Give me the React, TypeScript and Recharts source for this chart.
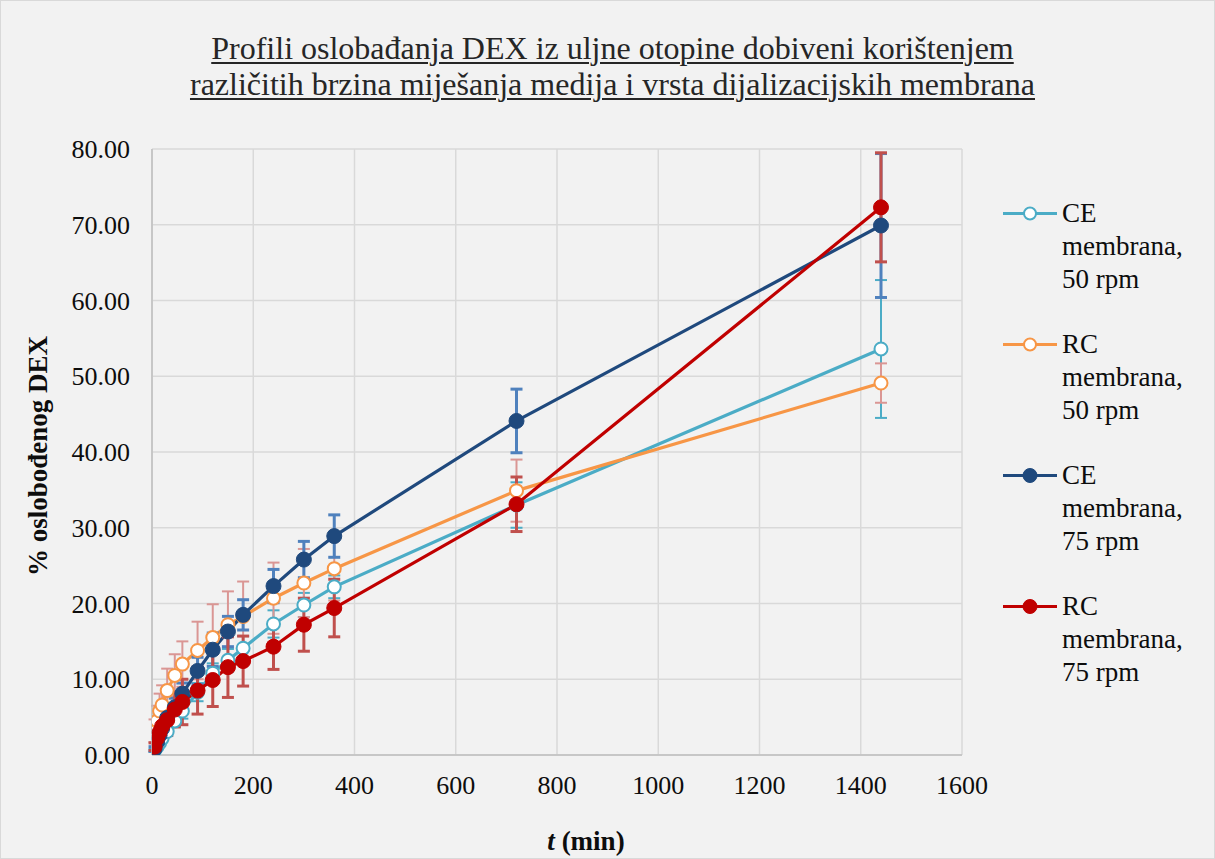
import React from 'react';
import { LineChart, Line, XAxis, YAxis, CartesianGrid, ErrorBar, Legend } from 'recharts';

// ---- data ----
const times = [5, 10, 15, 20, 30, 45, 60, 90, 120, 150, 180, 240, 300, 360, 720, 1440];

const ce50 = [0.6, 1.1, 1.6, 2.2, 3.1, 4.5, 5.8, 8.3, 10.8, 12.5, 14.1, 17.3, 19.8, 22.2, 33.0, 53.6];
const ce50Err = [0.2, 0.3, 0.4, 0.5, 0.6, 0.8, 1.0, 1.2, 1.3, 1.5, 1.6, 1.8, 1.6, 1.5, 3.0, 9.1];

const rc50 = [3.2, 4.5, 5.8, 6.6, 8.5, 10.5, 12.0, 13.8, 15.5, 17.2, 18.3, 20.7, 22.7, 24.6, 34.9, 49.1];
const rc50Err = [1.5, 2.0, 2.3, 2.6, 2.9, 2.8, 3.0, 3.8, 4.4, 4.4, 4.6, 4.7, 4.5, 4.2, 4.1, 2.6];

const ce75 = [0.8, 1.7, 2.6, 3.5, 4.9, 6.3, 8.1, 11.1, 13.9, 16.3, 18.5, 22.3, 25.8, 28.9, 44.1, 69.9];
const ce75Err = [0.3, 0.5, 0.6, 0.8, 1.0, 1.2, 1.4, 1.8, 2.2, 2.0, 2.0, 2.2, 2.4, 2.8, 4.2, 9.5];

const rc75 = [1.1, 2.2, 3.0, 3.8, 4.6, 6.0, 7.0, 8.5, 9.9, 11.6, 12.4, 14.3, 17.2, 19.4, 33.1, 72.3];
const rc75Err = [0.5, 0.8, 1.2, 1.5, 2.0, 2.3, 3.0, 3.1, 3.5, 4.0, 3.3, 3.0, 3.5, 3.8, 3.6, 7.2];

const xTicks = [0, 200, 400, 600, 800, 1000, 1200, 1400, 1600];
const yTicks = [0, 10, 20, 30, 40, 50, 60, 70, 80];

const titleLines = [
  'Profili oslobađanja DEX iz uljne otopine dobiveni korištenjem',
  'različitih brzina miješanja medija i vrsta dijalizacijskih membrana',
];
const xLabel = ['t', ' (min)'];
const yLabel = '% oslobođenog DEX';

const series = [
  { key: 'ce50', name: 'CE membrana, 50 rpm', color: '#4BACC6', errColor: '#4BACC6', errWidth: 2, hollow: true },
  { key: 'rc50', name: 'RC membrana, 50 rpm', color: '#F79646', errColor: '#DA9694', errWidth: 2, hollow: true },
  { key: 'ce75', name: 'CE membrana, 75 rpm', color: '#1F497D', errColor: '#4F81BD', errWidth: 3, hollow: false },
  { key: 'rc75', name: 'RC membrana, 75 rpm', color: '#C00000', errColor: '#C0504D', errWidth: 3, hollow: false },
];

const data = times.map((t, i) => ({
  t,
  ce50: ce50[i],
  ce50Err: ce50Err[i],
  rc50: rc50[i],
  rc50Err: rc50Err[i],
  ce75: ce75[i],
  ce75Err: ce75Err[i],
  rc75: rc75[i],
  rc75Err: rc75Err[i],
}));

const FONT = '"Liberation Serif", "Times New Roman", serif';
const TEXT = '#0d0d0d';

const W = 1215;
const H = 859;

const XTick = (props: any) => {
  const { x, y, payload } = props;
  return (
    <text x={x} y={y} textAnchor="middle" fontFamily={FONT} fontSize={26} fill={TEXT}>
      {payload.value}
    </text>
  );
};

const YTick = (props: any) => {
  const { x, y, payload } = props;
  return (
    <text x={x} y={y + 9} textAnchor="end" fontFamily={FONT} fontSize={26} fill={TEXT}>
      {Number(payload.value).toFixed(2)}
    </text>
  );
};

const XTitle = (props: any) => {
  const vb = props.viewBox || { x: 152, y: 755, width: 810, height: 104 };
  const cx = vb.x + vb.width / 2 + 29;
  return (
    <text x={cx} y={vb.y + 95} textAnchor="middle" fontFamily={FONT} fontSize={27} fontWeight="bold" fill={TEXT}>
      <tspan fontStyle="italic">{xLabel[0]}</tspan>
      <tspan>{xLabel[1]}</tspan>
    </text>
  );
};

const YTitle = (props: any) => {
  const vb = props.viewBox || { x: 0, y: 149, width: 152, height: 606 };
  const x = vb.x + 47;
  const y = vb.y + vb.height / 2 + 4;
  return (
    <text
      x={x}
      y={y}
      transform={`rotate(-90, ${x}, ${y})`}
      textAnchor="middle"
      fontFamily={FONT}
      fontSize={27}
      fontWeight="bold"
      fill={TEXT}
    >
      {yLabel}
    </text>
  );
};

const LegendContent = (props: any) => {
  const payload: any[] = props.payload || [];
  const entries = series.filter(
    (s) => payload.length === 0 || payload.some((p: any) => p.dataKey === s.key || p.value === s.name)
  );
  return (
    <div style={{ fontFamily: FONT, color: TEXT }}>
      {entries.map((s) => (
        <div key={s.key} style={{ display: 'flex', alignItems: 'flex-start', marginBottom: 32 }}>
          <svg width={60} height={33} style={{ flex: '0 0 auto' }}>
            <line x1={3} y1={16.5} x2={57} y2={16.5} stroke={s.color} strokeWidth={3} />
            {s.hollow ? (
              <circle cx={30} cy={16.5} r={6} fill="#fff" stroke={s.color} strokeWidth={2} />
            ) : (
              <circle cx={30} cy={16.5} r={7} fill={s.color} stroke={s.color} strokeWidth={1} />
            )}
          </svg>
          <div style={{ marginLeft: 2, width: 140, fontSize: 27, lineHeight: '33px' }}>{s.name}</div>
        </div>
      ))}
    </div>
  );
};

export default function App() {
  return (
    <div
      style={{
        position: 'relative',
        width: W,
        height: H,
        background: '#F2F2F2',
        boxSizing: 'border-box',
        border: '1px solid #D9D9D9',
        overflow: 'hidden',
      }}
    >
      <style>{'body{margin:0;}'}</style>
      <div
        style={{
          position: 'absolute',
          left: 4,
          top: 29,
          width: W,
          textAlign: 'center',
          fontFamily: FONT,
          fontSize: 32,
          lineHeight: '36px',
          color: '#262626',
          textDecoration: 'underline',
          textDecorationThickness: '1.5px',
          textUnderlineOffset: '3px',
          zIndex: 2,
        }}
      >
        {titleLines[0]}
        <br />
        {titleLines[1]}
      </div>
      <div style={{ position: 'absolute', left: -1, top: -1 }}>
        <LineChart width={W} height={H} data={data} margin={{ top: 149, right: 253, bottom: 0, left: 0 }}>
          <CartesianGrid stroke="#D9D9D9" strokeWidth={1.5} vertical horizontal />
          <XAxis
            dataKey="t"
            type="number"
            domain={[0, 1600]}
            ticks={xTicks}
            interval={0}
            height={104}
            tickSize={0}
            tickMargin={39}
            tickLine={false}
            axisLine={{ stroke: '#BFBFBF', strokeWidth: 1.5 }}
            tick={<XTick />}
            label={<XTitle />}
            allowDataOverflow
          />
          <YAxis
            type="number"
            domain={[0, 80]}
            ticks={yTicks}
            interval={0}
            width={152}
            tickSize={0}
            tickMargin={22}
            tickLine={false}
            axisLine={{ stroke: '#BFBFBF', strokeWidth: 1.5 }}
            tick={<YTick />}
            label={<YTitle />}
            allowDataOverflow
          />
          <Legend
            layout="vertical"
            align="center"
            verticalAlign="middle"
            content={<LegendContent />}
            wrapperStyle={{ left: 1000, top: 197, width: 210, height: 530 }}
          />
          {series.map((s) => (
            <Line
              key={s.key}
              dataKey={s.key}
              name={s.name}
              type="linear"
              stroke={s.color}
              strokeWidth={3.2}
              isAnimationActive={false}
              activeDot={false}
              dot={
                s.hollow
                  ? { r: 6.5, fill: '#fff', stroke: s.color, strokeWidth: 2 }
                  : { r: 7.5, fill: s.color, stroke: s.color, strokeWidth: 1 }
              }
            >
              <ErrorBar
                dataKey={s.key + 'Err'}
                direction="y"
                width={6}
                stroke={s.errColor}
                strokeWidth={s.errWidth}
                isAnimationActive={false}
              />
            </Line>
          ))}
        </LineChart>
      </div>
    </div>
  );
}
